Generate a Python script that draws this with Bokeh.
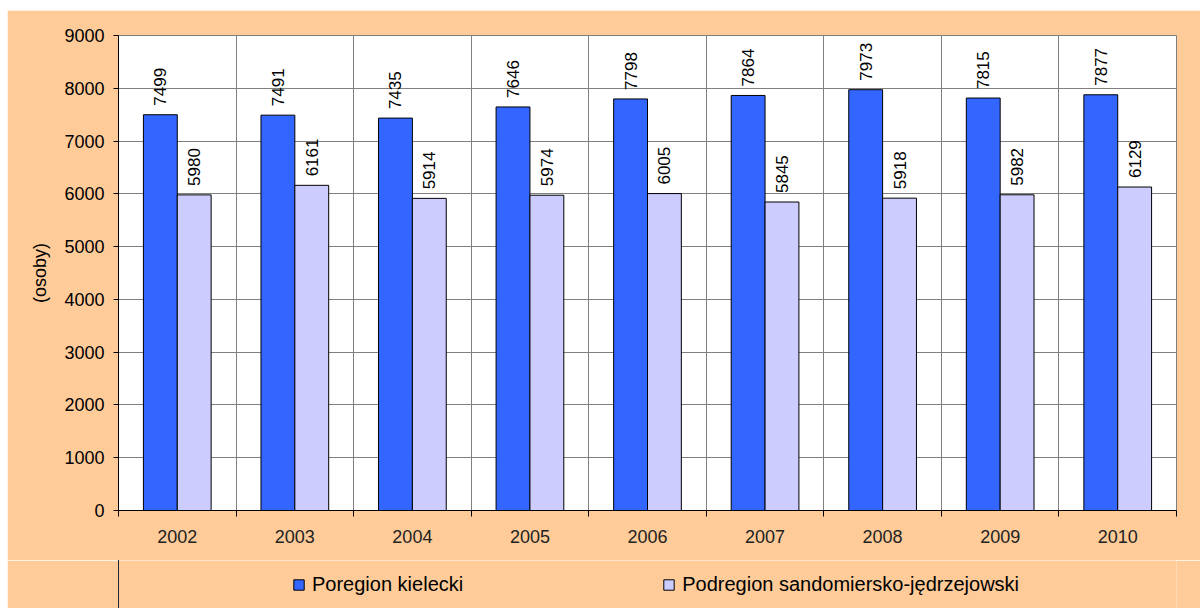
import math
from bokeh.plotting import figure
from bokeh.layouts import column
from bokeh.models import ColumnDataSource, FixedTicker, Legend, LegendItem, Range1d
from bokeh.transform import dodge
from bokeh.core.properties import value
from bokeh.embed import file_html
from bokeh.resources import INLINE

years = ["2002", "2003", "2004", "2005", "2006", "2007", "2008", "2009", "2010"]
kielecki = [7499, 7491, 7435, 7646, 7798, 7864, 7973, 7815, 7877]
sandomierski = [5980, 6161, 5914, 5974, 6005, 5845, 5918, 5982, 6129]
series_names = ["Poregion kielecki", "Podregion sandomiersko-jędrzejowski"]
y_ticks = [0, 1000, 2000, 3000, 4000, 5000, 6000, 7000, 8000, 9000]
y_label = "(osoby)"

FONT = "Liberation Sans"
BG = "#FFCC99"
C1 = "#3366FF"
C2 = "#CCCCFF"
n = len(years)
xs = [i + 1 for i in range(n)]
bounds = [i + 0.5 for i in range(n + 1)]

src = ColumnDataSource(dict(
    x=xs, k=kielecki, s=sandomierski,
    kl=[str(v) for v in kielecki], sl=[str(v) for v in sandomierski],
))

p = figure(frame_width=1058, frame_height=475, x_range=(0.5, n + 0.5), y_range=(0, 9000),
           output_backend="svg", toolbar_location=None,
           min_border_left=111, min_border_top=25, min_border_right=24, min_border_bottom=50)
p.margin = (10, 0, 0, 7)
p.background_fill_color = "white"
p.border_fill_color = BG
p.outline_line_color = "#808080"

bw = 0.288
off = 0.144
p.vbar(x=dodge("x", -off), top="k", width=bw, source=src,
       fill_color=C1, line_color="black", line_width=1)
p.vbar(x=dodge("x", off), top="s", width=bw, source=src,
       fill_color=C2, line_color="black", line_width=1)

for col, lab, o in (("k", "kl", -off), ("s", "sl", off)):
    p.text(x=dodge("x", o), y=col, text=lab, angle=math.pi / 2,
           text_align="left", text_baseline="middle", y_offset=-9,
           text_font=value(FONT), text_font_size="17px", text_color="black", source=src)

# grids
p.xgrid.ticker = FixedTicker(ticks=bounds)
p.xgrid.grid_line_color = "#808080"
p.ygrid.ticker = FixedTicker(ticks=y_ticks)
p.ygrid.grid_line_color = "#808080"

# x axis
xa = p.xaxis[0]
xa.ticker = FixedTicker(ticks=xs, minor_ticks=bounds)
xa.major_label_overrides = {x: y for x, y in zip(xs, years)}
xa.major_tick_out = 0
xa.major_tick_in = 0
xa.minor_tick_out = 6
xa.minor_tick_in = 0
xa.minor_tick_line_color = "black"
xa.axis_line_color = "black"
xa.major_label_standoff = 13
xa.major_label_text_font = FONT
xa.major_label_text_font_size = "18px"
xa.major_label_text_color = "#222222"

# y axis
ya = p.yaxis[0]
ya.ticker = FixedTicker(ticks=y_ticks)
ya.major_tick_out = 5
ya.major_tick_in = 0
ya.minor_tick_out = 0
ya.minor_tick_in = 0
ya.axis_line_color = "black"
ya.major_tick_line_color = "black"
ya.major_label_standoff = 9
ya.major_label_text_font = FONT
ya.major_label_text_font_size = "18px"
ya.major_label_text_color = "black"
ya.axis_label = y_label
ya.axis_label_text_font = FONT
ya.axis_label_text_font_size = "18px"
ya.axis_label_text_font_style = "normal"
ya.axis_label_text_color = "black"
ya.axis_label_standoff = 11

# legend strip below the chart (same borders as the chart, so frames line up)
lg = figure(frame_width=1058, frame_height=48, x_range=Range1d(100, 101), y_range=Range1d(0, 1),
            x_axis_type=None, y_axis_type=None, output_backend="svg", toolbar_location=None,
            min_border_left=111, min_border_right=24, min_border_top=0, min_border_bottom=0)
lg.margin = (0, 0, 0, 7)
lg.background_fill_color = BG
lg.border_fill_color = BG
lg.outline_line_color = None
lg.grid.visible = False
proxy1 = lg.vbar(x=dodge("x", -off), top="k", width=bw, source=src,
                 fill_color=C1, line_color="black", line_width=1)
proxy2 = lg.vbar(x=dodge("x", off), top="s", width=bw, source=src,
                 fill_color=C2, line_color="black", line_width=1)

legend = Legend(items=[LegendItem(label=series_names[0], renderers=[proxy1]),
                       LegendItem(label=series_names[1], renderers=[proxy2])],
                orientation="horizontal", location=(168, 6),
                glyph_width=13, glyph_height=13, label_standoff=7, spacing=199,
                label_text_font=FONT, label_text_font_size="20px", label_text_color="black",
                background_fill_alpha=0, border_line_alpha=0, margin=0, padding=6)
lg.add_layout(legend, "center")

layout = column(p, lg, spacing=0)
open("out.html", "w").write(file_html(layout, INLINE))
